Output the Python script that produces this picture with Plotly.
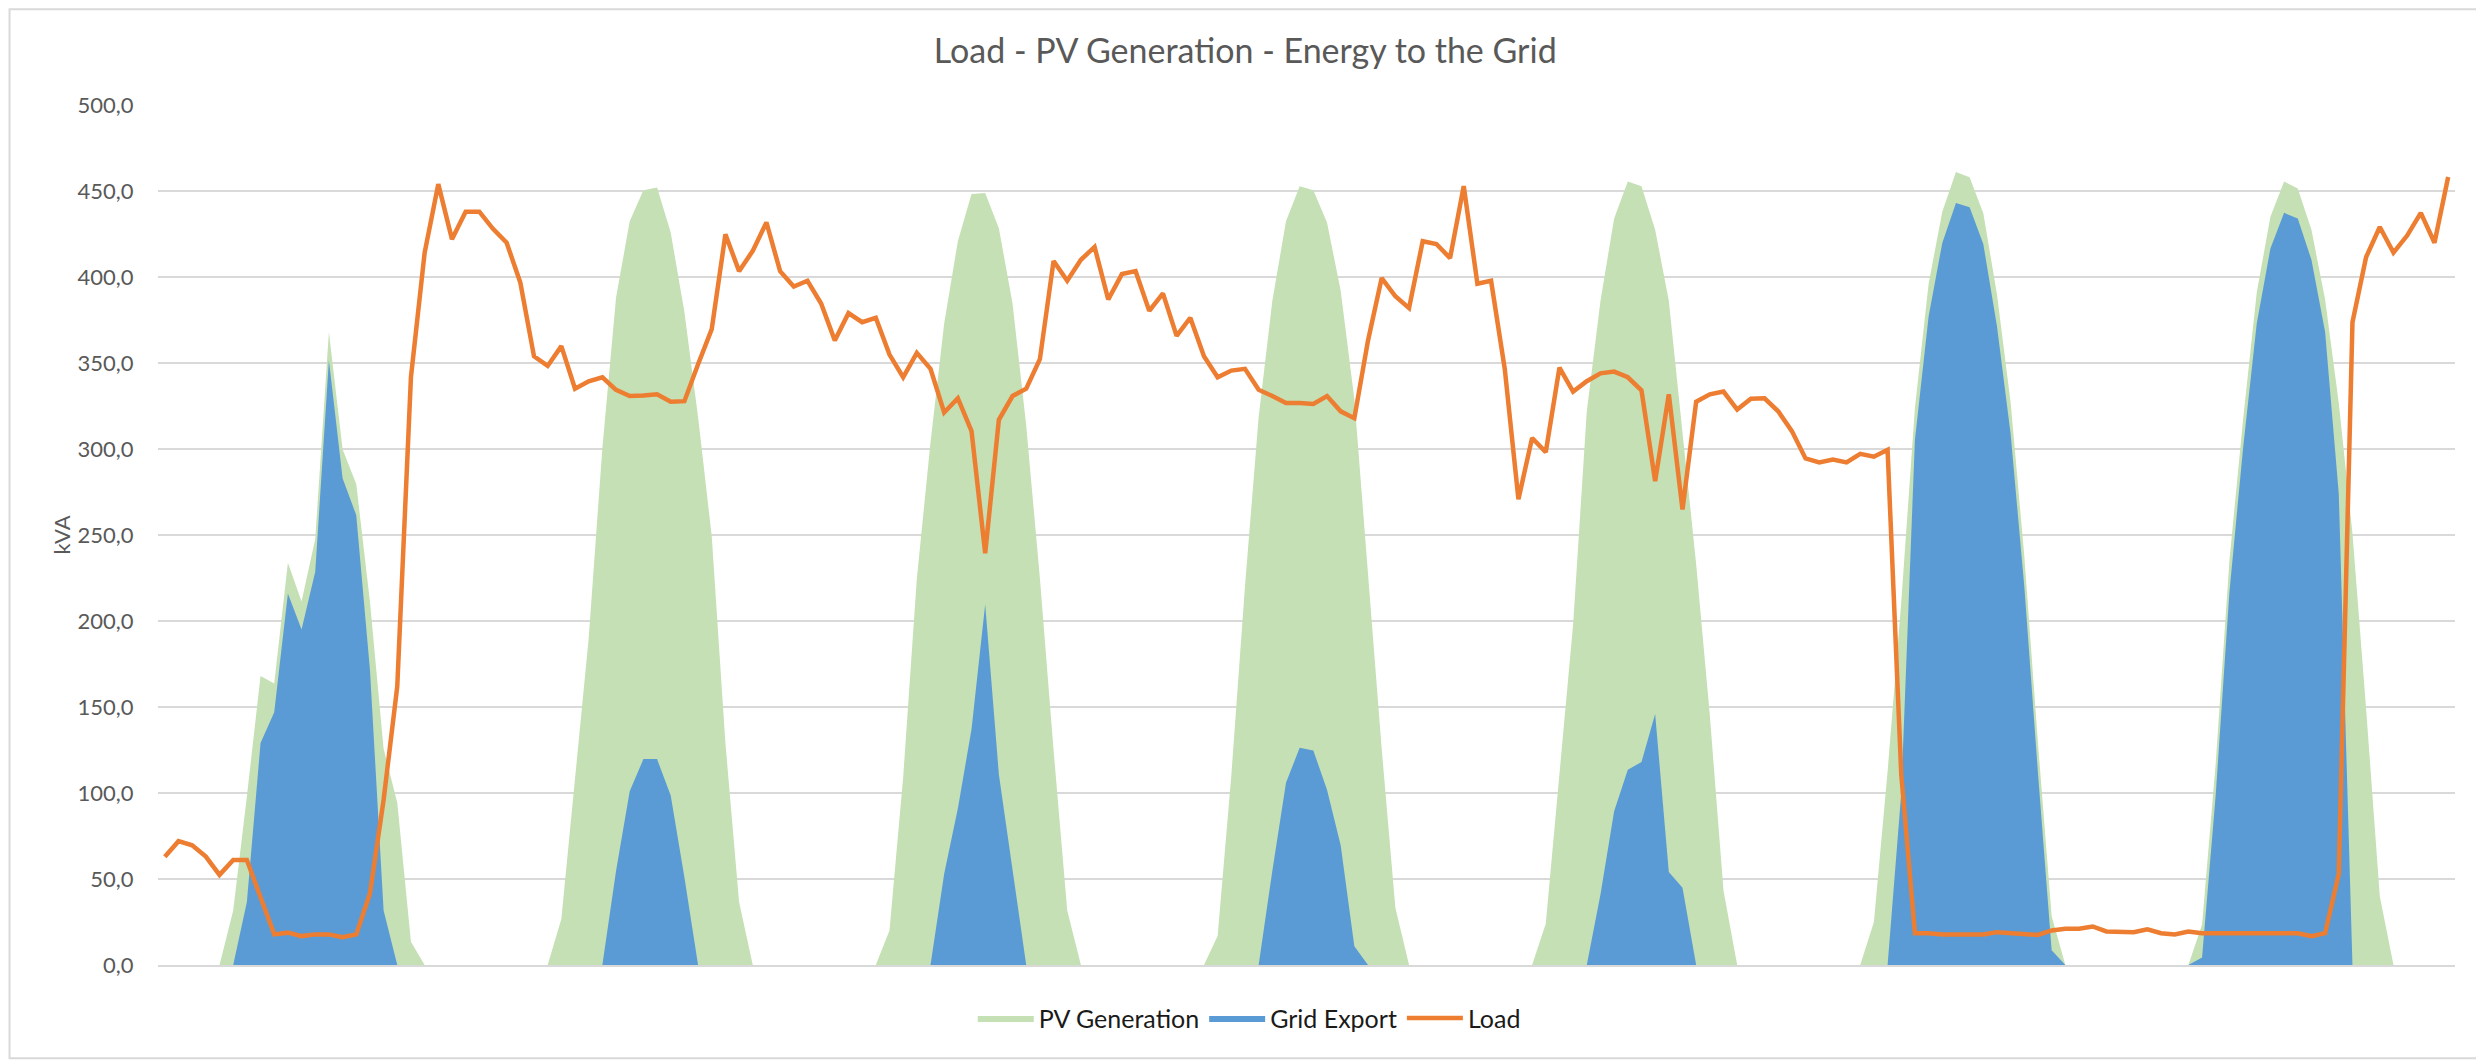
import plotly.graph_objects as go

hours = list(range(168))

load = [63, 72, 69.6, 63, 52.4, 61, 61, 40, 17.8, 18.8, 16.8, 17.8, 17.8, 16.2, 17.8, 41.6, 96, 162, 341.7, 414,
        454, 422, 438, 438, 428, 419.9, 396.8, 353.9, 348.3, 359.8, 335, 339.4, 341.7, 334.4, 330.8, 331.1, 331.8, 327.5, 327.8, 349.3,
        369.7, 424.8, 403.4, 415.2, 431.7, 403.4, 394.5, 397.8, 384.6, 363.1, 379, 373.7, 376.3, 354.9, 341.7, 355.9, 346.6, 321.2, 329.5, 310.4,
        239.4, 317, 330.8, 335.1, 352.2, 409.3, 397.8, 410, 417.5, 386.9, 401.7, 403.4, 380.3, 390.5, 365.8, 376.3, 353.9, 341.7, 345.6, 346.6,
        334.4, 330.8, 326.8, 326.8, 326.2, 330.8, 321.9, 317.9, 363.1, 399.4, 388.8, 381.9, 420.8, 419.2, 411, 452.8, 396.1, 397.8, 346.6, 270.8,
        306.4, 298.2, 347.3, 333.4, 339.4, 344, 345, 341.7, 334.1, 281.3, 331.8, 264.8, 327.5, 331.8, 333.4, 322.9, 329.2, 329.5, 321.9, 310.4,
        294.5, 292.2, 293.9, 292.2, 297.2, 295.5, 299.5, 110.8, 18.5, 18.5, 17.8, 17.8, 17.8, 17.8, 19.1, 18.5, 17.5, 17.5, 20.1, 21.1,
        21.1, 22.4, 19.5, 19.5, 19.1, 20.8, 18.5, 17.8, 19.5, 18.5, 18.5, 18.5, 18.5, 18.5, 18.5, 18.5, 18.5, 16.8, 18.5, 53.1,
        373.7, 411.6, 429.1, 414.2, 424.1, 437.3, 419.9, 458.1]

pv_generation = [0, 0, 0, 0, 0, 31.7, 98, 168, 163.6, 233.8, 211.4, 247.7, 368, 299.8, 279.7, 211.4, 125.7, 94.3, 13.5, 0,
                 0, 0, 0, 0, 0, 0, 0, 0, 0, 26.7, 109, 190, 300.5, 387.9, 432.4, 450.5, 452, 425.8, 379.6, 318.6,
                 249.3, 129, 36.6, 0, 0, 0, 0, 0, 0, 0, 0, 0, 0, 20, 109, 224.6, 303.8, 373, 420.8, 448.2,
                 448.9, 428.4, 384.6, 313.6, 225, 125, 31.7, 0, 0, 0, 0, 0, 0, 0, 0, 0, 0, 16.8, 110, 220,
                 318.6, 386, 432.4, 452.8, 450.5, 431.7, 392, 329, 228, 125.7, 33.3, 0, 0, 0, 0, 0, 0, 0, 0, 0,
                 0, 24, 112, 198, 322, 386, 434, 455.5, 452.8, 427.4, 386.2, 309.7, 233, 145, 43.2, 0, 0, 0, 0, 0,
                 0, 0, 0, 0, 0, 25, 112.5, 211, 324, 396, 438, 461, 458, 437, 390, 327, 237.8, 129, 28.4, 0,
                 0, 0, 0, 0, 0, 0, 0, 0, 0, 23.4, 117.5, 235, 317, 391, 435, 455.5, 451.5, 427.4, 386.9, 326.8,
                 251, 148.7, 40, 0, 0, 0, 0, 0]

grid_export = [0, 0, 0, 0, 0, 0, 36.6, 129, 147, 216, 195, 228.6, 351.6, 283, 261.5, 171.8, 31.7, 0, 0, 0,
               0, 0, 0, 0, 0, 0, 0, 0, 0, 0, 0, 0, 0, 54.7, 101, 119.7, 119.7, 98.6, 51, 0,
               0, 0, 0, 0, 0, 0, 0, 0, 0, 0, 0, 0, 0, 0, 0, 0, 0, 53, 91, 137,
               209.8, 110.8, 56, 0, 0, 0, 0, 0, 0, 0, 0, 0, 0, 0, 0, 0, 0, 0, 0, 0,
               0, 54.7, 105.9, 126.3, 124.7, 101.9, 69.6, 10.9, 0, 0, 0, 0, 0, 0, 0, 0, 0, 0, 0, 0,
               0, 0, 0, 0, 0, 41, 89.4, 113.5, 118, 146, 54, 44.9, 0, 0, 0, 0, 0, 0, 0, 0,
               0, 0, 0, 0, 0, 0, 0, 100, 305.4, 377, 419.8, 443, 440.6, 419.2, 371.4, 308.7, 220, 111.5, 8.6, 0,
               0, 0, 0, 0, 0, 0, 0, 0, 0, 4.3, 99, 216.5, 300.5, 373, 416.6, 437.3, 434, 410, 368, 274,
               0, 0, 0, 0, 0, 0, 0, 0]

FONT = "Lato, 'Open Sans', sans-serif"
OFF = 8  # page body margin in the browser
W, H = 2484 - OFF, 1060 - OFF
# plot area in screen pixels
SL, ST, SR, SB = 157.5, 104.7, 2455, 964.7
L = SL - OFF
T = ST - OFF
R = W - (SR - OFF)
B = H - (SB - OFF)
pw = W - L - R
ph = H - T - B


def px_x(p):  # screen px -> paper x
    return (p - SL) / pw


def px_y(p):  # screen px -> paper y
    return (SB - p) / ph


fig = go.Figure()
fig.add_trace(go.Scatter(x=hours, y=pv_generation, name="PV Generation", mode="lines",
                         line=dict(width=0, color="#C5E0B4"), fill="tozeroy", fillcolor="#C5E0B4"))
fig.add_trace(go.Scatter(x=hours, y=grid_export, name="Grid Export", mode="lines",
                         line=dict(width=0, color="#5B9BD5"), fill="tozeroy", fillcolor="#5B9BD5"))
fig.add_trace(go.Scatter(x=hours, y=load, name="Load", mode="lines",
                         line=dict(width=4.5, color="#ED7D31")))

fig.update_layout(
    width=W, height=H,
    margin=dict(l=L, r=R, t=T, b=B, autoexpand=False),
    paper_bgcolor="white", plot_bgcolor="white",
    separators=",.",
    font=dict(family=FONT, size=21, color="#595959"),
    title=dict(text="Load - PV Generation - Energy to the Grid", x=px_x(1245), xref="paper", xanchor="center",
               y=1 - (51 - OFF) / H, yanchor="middle", font=dict(size=34, color="#595959", family=FONT)),
    xaxis=dict(range=[-0.5, 167.5], showticklabels=False, showgrid=False, zeroline=False,
               showline=True, linecolor="#D9D9D9", linewidth=2, ticks=""),
    yaxis=dict(range=[0, 500], dtick=50, tickformat=".1f", showgrid=True, gridcolor="#D9D9D9",
               gridwidth=2, zeroline=False, ticks="outside", ticklen=19, tickcolor="rgba(0,0,0,0)",
               tickfont=dict(size=22, color="#595959", family=FONT)),
    legend=dict(orientation="h", x=px_x(1249), xanchor="center", y=px_y(1018), yanchor="middle",
                font=dict(size=25, color="#1a1a1a", family=FONT), itemwidth=56, traceorder="normal"),
    showlegend=True,
)

fig.add_annotation(text="kVA", xref="paper", yref="paper", x=px_x(60), y=0.5, textangle=-90,
                   showarrow=False, font=dict(size=22, color="#595959", family=FONT),
                   xanchor="center", yanchor="middle")

fig.add_shape(type="rect", xref="paper", yref="paper",
              x0=px_x(OFF + 1), x1=px_x(2482.5), y0=px_y(1058), y1=px_y(OFF + 1),
              line=dict(color="#D9D9D9", width=2), fillcolor="rgba(0,0,0,0)", layer="below")

fig.write_html("out.html")
